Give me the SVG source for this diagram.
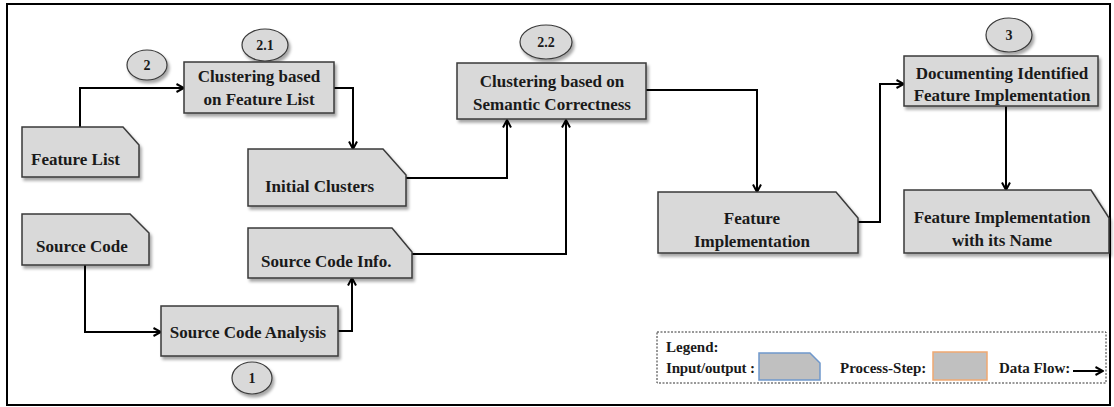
<svg xmlns="http://www.w3.org/2000/svg" width="1114" height="407" viewBox="0 0 1114 407">
<defs>
<filter id="sh" x="-10%" y="-10%" width="130%" height="140%">
<feDropShadow dx="2" dy="3" stdDeviation="1.5" flood-color="#000" flood-opacity="0.35"/>
</filter>
<marker id="arr" viewBox="0 0 10 10" refX="9" refY="5" markerWidth="10" markerHeight="10" markerUnits="userSpaceOnUse" orient="auto">
<path d="M1.5,1 L9,5 L1.5,9" fill="none" stroke="#000" stroke-width="2"/>
</marker>
</defs>
<style>
.n{fill:#d9d9d9;stroke:#3a3a3a;stroke-width:1.5;filter:url(#sh)}
.e{fill:#d9d9d9;stroke:#3a3a3a;stroke-width:1.2;filter:url(#sh)}
.t{font-family:"Liberation Serif","Times New Roman",serif;font-weight:bold;font-size:17px;fill:#1a1a1a}
.c{text-anchor:middle}
.s{font-size:14px}
.l{font-size:15px}
.w{fill:none;stroke:#000;stroke-width:2;marker-end:url(#arr)}
</style>
<rect x="7" y="4" width="1103" height="401" fill="#fff" stroke="#000" stroke-width="2"/>

<g id="connectors">
<path class="w" d="M80,127 V88 H184"/>
<path class="w" d="M334,88 H353 V149"/>
<path class="w" d="M406,178 H507 V120"/>
<path class="w" d="M412,254 H566 V120"/>
<path class="w" d="M646,90 H757 V192"/>
<path class="w" d="M858,222 H880 V84 H904"/>
<path class="w" d="M1006,106 V190"/>
<path class="w" d="M85,265 V332 H161"/>
<path class="w" d="M338,331 H352 V278"/>
</g>

<g id="step2">
<ellipse class="e" cx="147" cy="65" rx="20" ry="15"/>
<text class="t c s" x="147" y="70">2</text>
</g>
<g id="step2-1">
<ellipse class="e" cx="265" cy="45" rx="23" ry="16"/>
<text class="t c s" x="265" y="50">2.1</text>
</g>
<g id="clustering-feature-list">
<rect class="n" x="184" y="62" width="150" height="51"/>
<text class="t c" x="259" y="82">Clustering based</text>
<text class="t c" x="259" y="105">on Feature List</text>
</g>
<g id="step2-2">
<ellipse class="e" cx="546" cy="42" rx="26" ry="17"/>
<text class="t c s" x="546" y="47">2.2</text>
</g>
<g id="clustering-semantic">
<rect class="n" x="457" y="63" width="189" height="56"/>
<text class="t c" x="552" y="87">Clustering based on</text>
<text class="t c" x="552" y="110">Semantic Correctness</text>
</g>
<g id="step3">
<ellipse class="e" cx="1009" cy="35" rx="23" ry="17"/>
<text class="t c s" x="1009" y="40">3</text>
</g>
<g id="documenting">
<rect class="n" x="904" y="56" width="194" height="50"/>
<text class="t c" x="1002" y="79">Documenting Identified</text>
<text class="t c" x="1002" y="101">Feature Implementation</text>
</g>
<g id="feature-list">
<path class="n" d="M22,127 H123 L139,145 V177 H22 Z"/>
<text class="t" x="31" y="165">Feature List</text>
</g>
<g id="initial-clusters">
<path class="n" d="M248,149 H383 L406,175 V206 H248 Z"/>
<text class="t" x="265" y="192">Initial Clusters</text>
</g>
<g id="source-code-info">
<path class="n" d="M248,228 H392 L412,252 V278 H248 Z"/>
<text class="t" x="261" y="267">Source Code Info.</text>
</g>
<g id="source-code">
<path class="n" d="M22,214 H130 L149,233 V265 H22 Z"/>
<text class="t" x="36" y="252">Source Code</text>
</g>
<g id="source-code-analysis">
<rect class="n" x="161" y="306" width="177" height="50"/>
<text class="t c" x="248" y="338">Source Code Analysis</text>
</g>
<g id="step1">
<ellipse class="e" cx="252" cy="378" rx="20" ry="16"/>
<text class="t c s" x="252" y="383">1</text>
</g>
<g id="feature-implementation">
<path class="n" d="M658,192 H836 L858,218 V253 H658 Z"/>
<text class="t c" x="752" y="224">Feature</text>
<text class="t c" x="752" y="247">Implementation</text>
</g>
<g id="feature-implementation-name">
<path class="n" d="M904,190 H1091 L1109,218 V253 H904 Z"/>
<text class="t c" x="1002" y="223">Feature Implementation</text>
<text class="t c" x="1002" y="246">with its Name</text>
</g>

<g id="legend">
<rect x="657" y="332" width="449" height="51" fill="#fff" stroke="#333" stroke-width="1" stroke-dasharray="2,1.5"/>
<text class="t l" x="666" y="352">Legend:</text>
<text class="t l" x="666" y="373" textLength="89" lengthAdjust="spacing">Input/output :</text>
<path d="M759,353 H810 L820,363 V380 H759 Z" fill="#c0c0c0" stroke="#6f98cc" stroke-width="1.5"/>
<text class="t l" x="840" y="373">Process-Step:</text>
<rect x="933" y="352" width="54" height="28" fill="#c0c0c0" stroke="#f0a870" stroke-width="1.5"/>
<text class="t l" x="999" y="373">Data Flow:</text>
<path class="w" d="M1073,371 H1103"/>
</g>
</svg>
